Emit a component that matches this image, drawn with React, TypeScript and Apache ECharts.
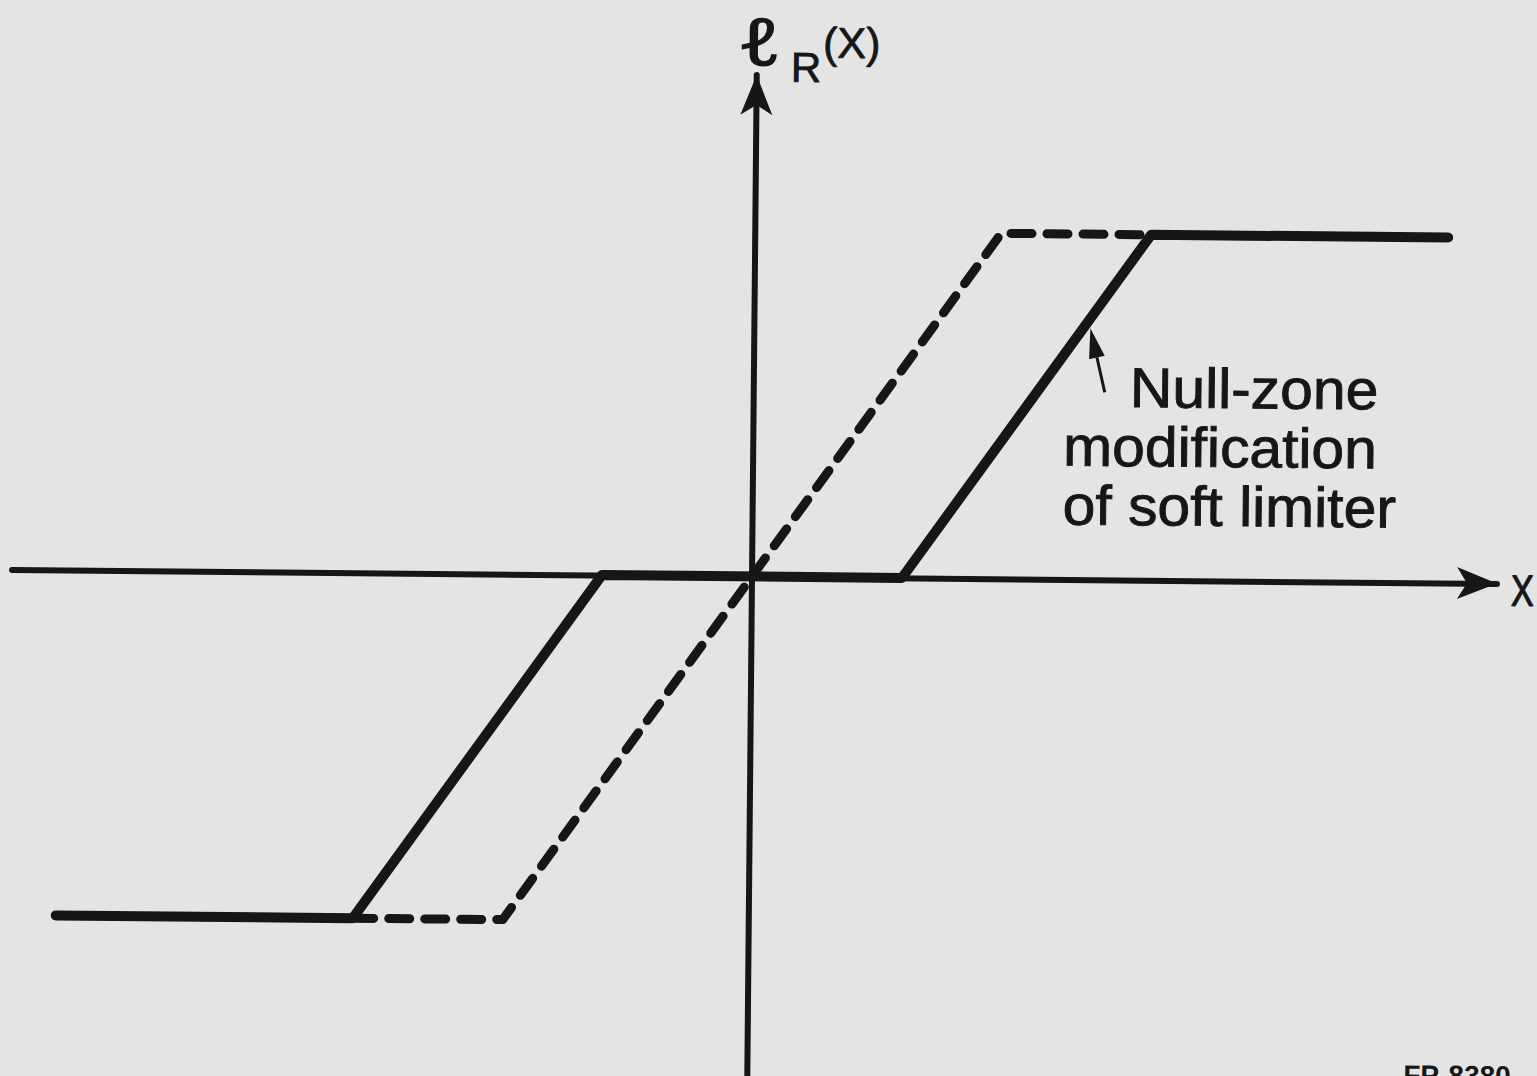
import React, { useEffect, useRef } from "react";
import * as echarts from "echarts";

// Transfer characteristic breakpoints (x in normalized input units, y in output units)
const nullZoneEdge = 1.0;
const softLimitKnee = 1.64;
const modifiedKnee = 2.64;
const limitLevel = 2.31;
const plotEnd = 4.62;

// Solid curve: soft limiter with a null zone around the origin
const nullZoneCurve: [number, number][] = [
  [-plotEnd, -limitLevel],
  [-modifiedKnee, -limitLevel],
  [-nullZoneEdge, 0],
  [nullZoneEdge, 0],
  [modifiedKnee, limitLevel],
  [plotEnd, limitLevel],
];

// Dashed curve: plain soft limiter
const softLimiterCurve: [number, number][] = [
  [-modifiedKnee, -limitLevel],
  [-softLimitKnee, -limitLevel],
  [softLimitKnee, limitLevel],
  [modifiedKnee, limitLevel],
];

const xRange = [-4.933, 4.967];
const yRange = [-3.34, 3.353];
const unit = 150; // pixels per axis unit

const annotationLines = ["Null-zone", "modification", "of soft limiter"];
const ink = "#161616";

export default function App() {
  const ref = useRef<HTMLDivElement>(null);

  useEffect(() => {
    if (!ref.current) return;
    const chart = echarts.init(ref.current, null, { renderer: "svg" });
    const font = "Liberation Sans";
    const noteFont = `56px '${font}'`;
    chart.setOption({
      animation: false,
      backgroundColor: "transparent",
      grid: {
        left: 12,
        top: 75,
        width: (xRange[1] - xRange[0]) * unit,
        height: (yRange[1] - yRange[0]) * unit,
      },
      xAxis: {
        type: "value",
        min: xRange[0],
        max: xRange[1],
        axisLine: {
          show: true,
          onZero: true,
          symbol: ["none", "arrow"],
          symbolSize: [24, 40],
          lineStyle: { color: ink, width: 6 },
        },
        axisTick: { show: false },
        axisLabel: { show: false },
        splitLine: { show: false },
      },
      yAxis: {
        type: "value",
        min: yRange[0],
        max: yRange[1],
        axisLine: {
          show: true,
          onZero: true,
          symbol: ["none", "arrow"],
          symbolSize: [24, 40],
          lineStyle: { color: ink, width: 6 },
        },
        axisTick: { show: false },
        axisLabel: { show: false },
        splitLine: { show: false },
      },
      series: [
        {
          name: "soft limiter",
          type: "line",
          data: softLimiterCurve,
          showSymbol: false,
          lineStyle: { color: ink, width: 9, type: [21, 15], cap: "round", join: "round" },
          z: 3,
        },
        {
          name: "null-zone modification",
          type: "line",
          data: nullZoneCurve,
          showSymbol: false,
          lineStyle: { color: ink, width: 10, type: "solid", cap: "round", join: "round" },
          z: 4,
        },
      ],
      graphic: [
        {
          type: "text",
          x: 733,
          y: 40,
          scaleX: 1.45,
          scaleY: 1.12,
          style: {
            text: "ℓ",
            x: 0,
            y: 0,
            fill: ink,
            stroke: ink,
            lineWidth: 1,
            font: "58px 'Noto Sans'",
            verticalAlign: "middle",
          },
        },
        {
          type: "text",
          style: { text: "R", x: 786, y: 67, fill: ink, stroke: ink, lineWidth: 0.8, font: `42px '${font}'`, verticalAlign: "middle" },
        },
        {
          type: "text",
          style: { text: "(X)", x: 818, y: 42, fill: ink, stroke: ink, lineWidth: 0.8, font: `43px '${font}'`, verticalAlign: "middle" },
        },
        {
          type: "text",
          x: 1511,
          y: 583,
          scaleX: 0.78,
          style: { text: "X", x: 0, y: 0, fill: ink, stroke: ink, lineWidth: 1.2, font: `44px '${font}'`, verticalAlign: "middle" },
        },
        {
          type: "text",
          x: 1062,
          y: 443,
          scaleX: 1.05,
          style: {
            text: `{a|${annotationLines[0]}}\n${annotationLines[1]}\n${annotationLines[2]}`,
            x: 0,
            y: 0,
            lineHeight: 59,
            fill: ink,
            stroke: ink,
            lineWidth: 0.9,
            font: noteFont,
            verticalAlign: "middle",
            rich: {
              a: { font: noteFont, lineHeight: 59, padding: [0, 0, 0, 63] },
            },
          },
        },
        {
          type: "text",
          style: { text: "FP-8380", x: 1408, y: 1069, fill: ink, font: `bold 28px '${font}'`, verticalAlign: "middle" },
        },
        {
          type: "line",
          shape: { x1: 1103, y1: 389, x2: 1094.8, y2: 354 },
          style: { stroke: ink, lineWidth: 3 },
        },
        {
          type: "polygon",
          shape: { points: [[1088, 325], [1102.6, 352.4], [1087, 356]] },
          style: { fill: ink },
        },
      ],
    });
    return () => chart.dispose();
  }, []);

  return (
    <div style={{ position: "fixed", inset: 0, background: "#e4e4e4", overflow: "hidden" }}>
      <div
        ref={ref}
        style={{
          position: "absolute",
          left: 0,
          top: 0,
          width: 1537,
          height: 1076,
          transform: "rotate(0.54deg)",
          transformOrigin: "752px 578px",
        }}
      />
    </div>
  );
}
